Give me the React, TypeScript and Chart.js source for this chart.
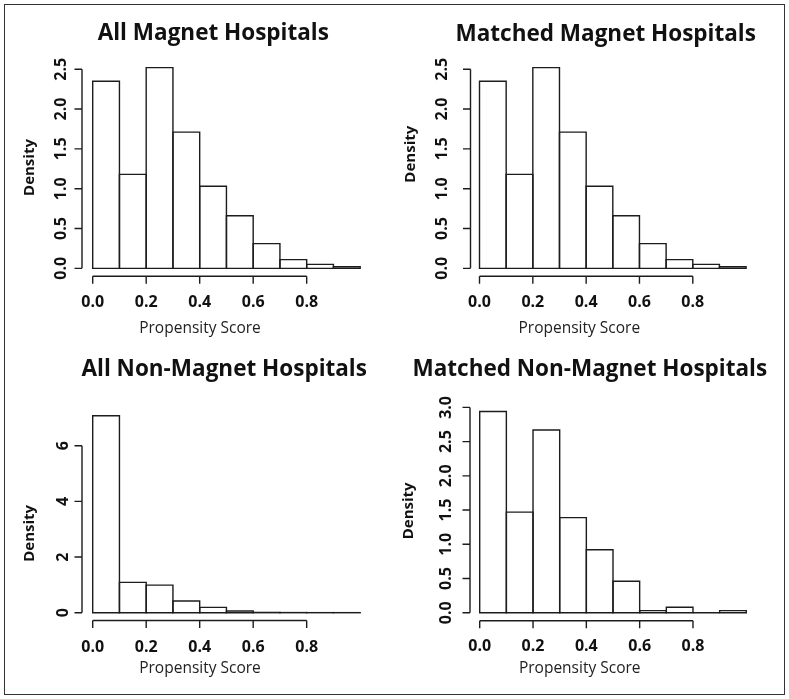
import React, { useEffect, useRef } from "react";
import { Chart, registerables } from "chart.js";

Chart.register(...registerables);

// ---- data ----
const binCenters = [0.05, 0.15, 0.25, 0.35, 0.45, 0.55, 0.65, 0.75, 0.85, 0.95];
const allMagnet = [2.35, 1.18, 2.52, 1.71, 1.03, 0.66, 0.31, 0.11, 0.05, 0.02];
const matchedMagnet = [2.35, 1.18, 2.52, 1.71, 1.03, 0.66, 0.31, 0.11, 0.05, 0.02];
const allNonMagnet = [7.08, 1.09, 0.99, 0.42, 0.19, 0.06, 0.01, 0.005, 0.002, 0.002];
const matchedNonMagnet = [2.94, 1.47, 2.67, 1.39, 0.92, 0.46, 0.03, 0.08, 0, 0.03];

const xTickValues = [0, 0.2, 0.4, 0.6, 0.8];
const xTickLabels = ["0.0", "0.2", "0.4", "0.6", "0.8"];
const yTicksMagnet = [0, 0.5, 1, 1.5, 2, 2.5];
const yTickLabelsMagnet = ["0.0", "0.5", "1.0", "1.5", "2.0", "2.5"];
const yTicksAllNon = [0, 2, 4, 6];
const yTickLabelsAllNon = ["0", "2", "4", "6"];
const yTicksMatchedNon = [0, 0.5, 1, 1.5, 2, 2.5, 3];
const yTickLabelsMatchedNon = ["0.0", "0.5", "1.0", "1.5", "2.0", "2.5", "3.0"];

const panelTitles = [
  "All Magnet Hospitals",
  "Matched Magnet Hospitals",
  "All Non-Magnet Hospitals",
  "Matched Non-Magnet Hospitals",
];
const xAxisTitle = "Propensity Score";
const yAxisTitle = "Density";

const FONT = '"Open Sans", "DejaVu Sans", sans-serif';
const LINE = "#1c1c1c";
const TEXT = "#111";

type Layout = {
  left: number; top: number; w: number; h: number;
  pad: { left: number; right: number; top: number; bottom: number };
  xmin: number; xmax: number; ymin: number; ymax: number;
  yLabelX: number; yTitleX: number; yTitleY: number;
  xLabelBase: number; xTitleX: number; xTitleBase: number;
  titleX: number; titleBase: number;
};

type PanelProps = {
  title: string;
  values: number[];
  yTicks: number[];
  yLabels: string[];
  layout: Layout;
};

function Panel({ title, values, yTicks, yLabels, layout }: PanelProps) {
  const ref = useRef<HTMLCanvasElement | null>(null);
  useEffect(() => {
    if (!ref.current) return;
    const L = layout;
    const rPlot = {
      id: "rStyle",
      afterDatasetsDraw(chart: any) {
        const ctx = chart.ctx as CanvasRenderingContext2D;
        const meta = chart.getDatasetMeta(0);
        ctx.save();
        ctx.strokeStyle = LINE;
        ctx.lineWidth = 1.4;
        for (const el of meta.data) {
          const p = el.getProps(["x", "y", "base", "width"], true);
          const x0 = p.x - p.width / 2;
          ctx.beginPath();
          ctx.rect(x0, Math.min(p.y, p.base), p.width, Math.abs(p.base - p.y));
          ctx.stroke();
        }
        ctx.restore();
      },
      afterDraw(chart: any) {
        const ctx = chart.ctx as CanvasRenderingContext2D;
        const xs = chart.scales.x;
        const ys = chart.scales.y;
        const ca = chart.chartArea;
        const tl = 7.5;
        ctx.save();
        ctx.strokeStyle = LINE;
        ctx.lineWidth = 1.4;
        // x axis
        const xa = xs.getPixelForValue(xTickValues[0]);
        const xb = xs.getPixelForValue(xTickValues[xTickValues.length - 1]);
        ctx.beginPath();
        ctx.moveTo(xa, ca.bottom);
        ctx.lineTo(xb, ca.bottom);
        for (const v of xTickValues) {
          const px = xs.getPixelForValue(v);
          ctx.moveTo(px, ca.bottom);
          ctx.lineTo(px, ca.bottom + tl);
        }
        ctx.stroke();
        // y axis
        const ya = ys.getPixelForValue(yTicks[0]);
        const yb = ys.getPixelForValue(yTicks[yTicks.length - 1]);
        ctx.beginPath();
        ctx.moveTo(ca.left, ya);
        ctx.lineTo(ca.left, yb);
        for (const v of yTicks) {
          const py = ys.getPixelForValue(v);
          ctx.moveTo(ca.left, py);
          ctx.lineTo(ca.left - tl, py);
        }
        ctx.stroke();

        ctx.fillStyle = TEXT;
        // x tick labels
        ctx.font = `bold 16px ${FONT}`;
        ctx.textAlign = "center";
        ctx.textBaseline = "alphabetic";
        xTickValues.forEach((v, i) => {
          ctx.fillText(xTickLabels[i], xs.getPixelForValue(v), L.xLabelBase);
        });
        // y tick labels (rotated)
        ctx.textBaseline = "middle";
        yTicks.forEach((v, i) => {
          const py = ys.getPixelForValue(v);
          ctx.save();
          ctx.translate(L.yLabelX, py);
          ctx.rotate(-Math.PI / 2);
          ctx.fillText(yLabels[i], 0, 0);
          ctx.restore();
        });
        // axis titles
        ctx.fillStyle = "#222";
        ctx.font = `15.5px ${FONT}`;
        ctx.textBaseline = "alphabetic";
        ctx.fillText(xAxisTitle, L.xTitleX, L.xTitleBase);
        ctx.fillStyle = TEXT;
        ctx.font = `bold 15px ${FONT}`;
        ctx.textBaseline = "middle";
        ctx.save();
        ctx.translate(L.yTitleX, L.yTitleY);
        ctx.rotate(-Math.PI / 2);
        ctx.fillText(yAxisTitle, 0, 0);
        ctx.restore();
        // main title
        ctx.font = `bold 22.5px ${FONT}`;
        ctx.textBaseline = "alphabetic";
        ctx.fillText(title, L.titleX, L.titleBase);
        ctx.restore();
      },
    };

    const chart = new Chart(ref.current, {
      type: "bar",
      data: {
        datasets: [
          {
            data: binCenters.map((x, i) => ({ x, y: values[i] })),
            backgroundColor: "#ffffff",
            borderWidth: 0,
            barPercentage: 1,
            categoryPercentage: 1,
          } as any,
        ],
      },
      options: {
        animation: false,
        responsive: false,
        events: [],
        layout: { padding: L.pad },
        plugins: {
          legend: { display: false },
          tooltip: { enabled: false },
          title: { display: false },
        },
        scales: {
          x: {
            type: "linear",
            min: L.xmin,
            max: L.xmax,
            offset: false,
            display: false,
            afterBuildTicks: (s: any) => {
              s.ticks = xTickValues.map((v) => ({ value: v }));
            },
          },
          y: {
            type: "linear",
            min: L.ymin,
            max: L.ymax,
            display: false,
            afterBuildTicks: (s: any) => {
              s.ticks = yTicks.map((v) => ({ value: v }));
            },
          },
        },
      } as any,
      plugins: [rPlot],
    });
    return () => chart.destroy();
  }, [title, values, yTicks, yLabels, layout]);

  return (
    <canvas
      ref={ref}
      width={layout.w}
      height={layout.h}
      style={{ position: "absolute", left: layout.left, top: layout.top, width: layout.w, height: layout.h }}
    />
  );
}

const layouts: Layout[] = [
  {
    left: 0, top: 0, w: 394, h: 350,
    pad: { left: 82.0, right: 25.8, top: 59.7, bottom: 73.7 },
    xmin: -0.04, xmax: 1.03, ymin: -0.1, ymax: 2.62,
    yLabelX: 61, yTitleX: 30, yTitleY: 167.5,
    xLabelBase: 307, xTitleX: 200, xTitleBase: 332.5,
    titleX: 213.3, titleBase: 39.5,
  },
  {
    left: 394, top: 0, w: 395, h: 350,
    pad: { left: 76.5, right: 34.9, top: 59.7, bottom: 73.7 },
    xmin: -0.0338, xmax: 1.03, ymin: -0.1, ymax: 2.62,
    yLabelX: 48.3, yTitleX: 16.7, yTitleY: 154.2,
    xLabelBase: 307, xTitleX: 185.3, xTitleBase: 332.5,
    titleX: 211.7, titleBase: 40.5,
  },
  {
    left: 0, top: 350, w: 394, h: 349,
    pad: { left: 82.0, right: 25.8, top: 57.9, bottom: 78.5 },
    xmin: -0.04, xmax: 1.03, ymin: -0.28, ymax: 7.36,
    yLabelX: 63, yTitleX: 30, yTitleY: 183.3,
    xLabelBase: 301.5, xTitleX: 200, xTitleBase: 322.5,
    titleX: 224.2, titleBase: 26,
  },
  {
    left: 394, top: 350, w: 395, h: 349,
    pad: { left: 76.0, right: 34.7, top: 53.3, bottom: 78.2 },
    xmin: -0.0364, xmax: 1.03, ymin: -0.118, ymax: 3.06,
    yLabelX: 52.5, yTitleX: 15, yTitleY: 160.8,
    xLabelBase: 300.5, xTitleX: 185.7, xTitleBase: 322.5,
    titleX: 195.8, titleBase: 26,
  },
];

export default function App() {
  return (
    <div style={{ position: "fixed", left: 0, top: 0, width: 789, height: 699, background: "#fff", overflow: "hidden" }}>
      <Panel title={panelTitles[0]} values={allMagnet} yTicks={yTicksMagnet} yLabels={yTickLabelsMagnet} layout={layouts[0]} />
      <Panel title={panelTitles[1]} values={matchedMagnet} yTicks={yTicksMagnet} yLabels={yTickLabelsMagnet} layout={layouts[1]} />
      <Panel title={panelTitles[2]} values={allNonMagnet} yTicks={yTicksAllNon} yLabels={yTickLabelsAllNon} layout={layouts[2]} />
      <Panel title={panelTitles[3]} values={matchedNonMagnet} yTicks={yTicksMatchedNon} yLabels={yTickLabelsMatchedNon} layout={layouts[3]} />
      <div
        style={{
          position: "absolute", left: 4, top: 4, width: 781, height: 691,
          border: "1.5px solid #333", boxSizing: "border-box", pointerEvents: "none",
        }}
      />
    </div>
  );
}
